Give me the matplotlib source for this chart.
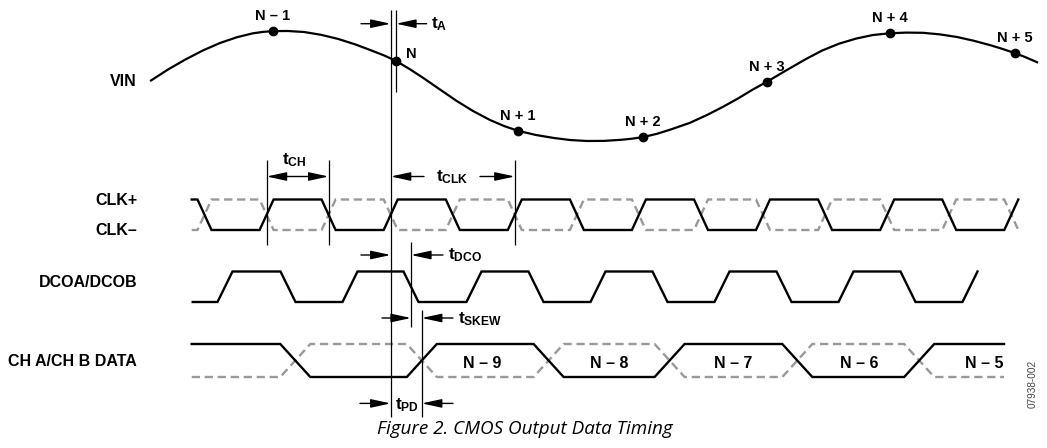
import matplotlib
matplotlib.use('Agg')
import matplotlib.pyplot as plt

plt.rcParams['font.family'] = 'Liberation Sans'
plt.rcParams['mathtext.fontset'] = 'custom'
plt.rcParams['mathtext.rm'] = 'Liberation Sans:bold'
plt.rcParams['mathtext.it'] = 'Liberation Sans:bold'
plt.rcParams['mathtext.bf'] = 'Liberation Sans:bold'

# ---- data (time axis in drawing units) ----
vin_t = [151, 168, 186, 203, 220, 237, 253, 263, 273, 288, 304, 321, 338, 355,
         372, 384, 396, 410, 423, 440, 456, 473, 490, 504, 518, 536, 554, 570,
         587, 604, 621, 632, 643, 657, 671, 690, 708, 723, 738, 752, 767, 786,
         806, 822, 839, 856, 873, 890, 906, 923, 940, 957, 974, 991, 1003, 1015,
         1026, 1037]
vin_v = [80.5, 69.5, 59.2, 50.4, 43.0, 37.2, 33.3, 31.9, 31.1, 31.0, 32.0, 34.8,
         38.9, 44.3, 50.7, 55.4, 60.9, 69.3, 77.8, 89.5, 100.5, 111.0, 120.0,
         126.0, 130.8, 135.0, 138.0, 140.0, 141.0, 140.9, 139.8, 138.7, 137.1,
         133.8, 129.4, 122.8, 114.5, 106.8, 98.5, 90.0, 81.7, 70.5, 59.0, 50.6,
         43.7, 38.6, 35.0, 33.3, 32.6, 32.8, 34.4, 37.0, 40.8, 45.4, 49.1, 53.1,
         57.4, 62.2]

sample_t = [273, 396, 518, 643, 767, 890, 1015]
sample_v = [31.1, 60.9, 130.8, 137.1, 81.7, 33.3, 53.1]
sample_labels = ['N – 1', 'N', 'N + 1', 'N + 2', 'N + 3', 'N + 4', 'N + 5']

clk_cross = [204.5, 266.6, 328.6, 390.7, 452.8, 514.8, 576.9, 638.9, 701.0,
             763.0, 825.1, 887.2, 949.2, 1011.3]
dco_cross = [225, 288, 350, 411, 474, 536, 598, 660, 722, 784, 846, 908, 970]
data_cross = [295.3, 421.8, 548.6, 669.6, 797.3, 919.2]
data_label_t = [482, 609, 733, 859, 984]
data_labels = ['N – 9', 'N – 8', 'N – 7', 'N – 6', 'N – 5']

signal_names = ['VIN', 'CLK+', 'CLK–', 'DCOA/DCOB', 'CH A/CH B DATA']
signal_base = [86, 205, 235, 287.3, 366]

fig = plt.figure(figsize=(10.47, 4.48), dpi=100)
ax = fig.add_axes([0, 0, 1, 1])
ax.set_xlim(0, 1047)
ax.set_ylim(448, 0)
ax.axis('off')


def trapezoid(cross, first, width, x0, x1=None):
    xs, ys = [x0], [first]
    lvl = first
    for c in cross:
        xs += [c - width / 2, c + width / 2]
        ys += [lvl, 1 - lvl]
        lvl = 1 - lvl
    if x1 is not None:
        xs.append(x1)
        ys.append(lvl)
    return xs, ys


def draw_signal(cross, first, width, x0, x1, hi, lo, dashed=True):
    xs, ys = trapezoid(cross, first, width, x0, x1)
    ax.plot(xs, [lo + (hi - lo) * v for v in ys], color='black', lw=1.7,
            solid_joinstyle='miter', zorder=3)
    if dashed:
        ax.plot(xs, [lo + (hi - lo) * (1 - v) for v in ys], color='#999999', lw=1.7,
                ls=(0, (3.5, 2)), dash_joinstyle='miter', zorder=2)


def arrow(tail, head, y, style='-|>'):
    ax.annotate('', xy=(head, y), xytext=(tail, y),
                arrowprops=dict(arrowstyle=style + ',head_length=1.2,head_width=0.26',
                                color='black', lw=1.0, shrinkA=0, shrinkB=0,
                                mutation_scale=10))


def tlabel(x, y, sub):
    ax.text(x, y, r'$t_{\mathrm{%s}}$' % sub, fontsize=12.5, ha='left', va='baseline')


# VIN
ax.plot(vin_t, vin_v, color='black', lw=1.6, solid_joinstyle='round', zorder=3)
ax.plot(sample_t, sample_v, 'o', color='black', ms=6, zorder=4)
for t, v, lab in zip(sample_t, sample_v, sample_labels):
    if lab == 'N':
        ax.text(t + 10, v - 3, lab, fontsize=10.5, fontweight='bold', ha='left', va='baseline')
    else:
        ax.text(t, v - 11, lab, fontsize=10.5, fontweight='bold', ha='center', va='baseline')

# waveforms
draw_signal(clk_cross, 1, 14, 191.7, None, 199.5, 230)
draw_signal(dco_cross, 0, 15, 192.7, None, 271.5, 302, dashed=False)
draw_signal(data_cross, 1, 30, 191.7, 1004, 344, 377)
for t, lab in zip(data_label_t, data_labels):
    ax.text(t, 368.5, lab, fontsize=11.5, fontweight='bold', ha='center', va='baseline')

for name, yb in zip(signal_names, signal_base):
    ax.text(137, yb, name, fontsize=11.5, fontweight='bold', ha='right', va='baseline')

# timing reference lines
vl = dict(color='black', lw=0.9, zorder=5)
ax.vlines(clk_cross[3], 10, 417, **vl)
ax.vlines(sample_t[1], 10, 92, **vl)
ax.vlines([clk_cross[1], clk_cross[2]], 159.6, 244.8, **vl)
ax.vlines(clk_cross[5], 159.6, 244.8, **vl)
ax.vlines(dco_cross[3], 242, 327.3, **vl)
ax.vlines(data_cross[1], 310.4, 417, **vl)

# t_A
arrow(361, clk_cross[3], 23.7)
arrow(426.6, sample_t[1], 23.7)
tlabel(431, 28, 'A')
# t_CH
arrow(clk_cross[1], clk_cross[2], 176.5, style='<|-|>')
tlabel(282, 164.5, 'CH')
# t_CLK
arrow(424, clk_cross[3], 176.5)
arrow(480, clk_cross[5], 176.5)
tlabel(436, 181, 'CLK')
# t_DCO
arrow(361, clk_cross[3], 255)
arrow(443, dco_cross[3], 255)
tlabel(448, 259.5, 'DCO')
# t_SKEW
arrow(382, dco_cross[3], 318)
arrow(453, data_cross[1], 318)
tlabel(458, 323.5, 'SKEW')
# t_PD
arrow(360, clk_cross[3], 403.4)
arrow(453, data_cross[1], 403.4)
tlabel(395, 409, 'PD')

ax.text(524.7, 434.3, 'Figure 2. CMOS Output Data Timing', fontsize=13.6,
        family='Open Sans', style='italic', ha='center', va='baseline')
ax.text(1033, 384, '07938-002', fontsize=7.2, color='#444444', rotation=90,
        ha='center', va='center')

fig.savefig('out.png', dpi=100)
